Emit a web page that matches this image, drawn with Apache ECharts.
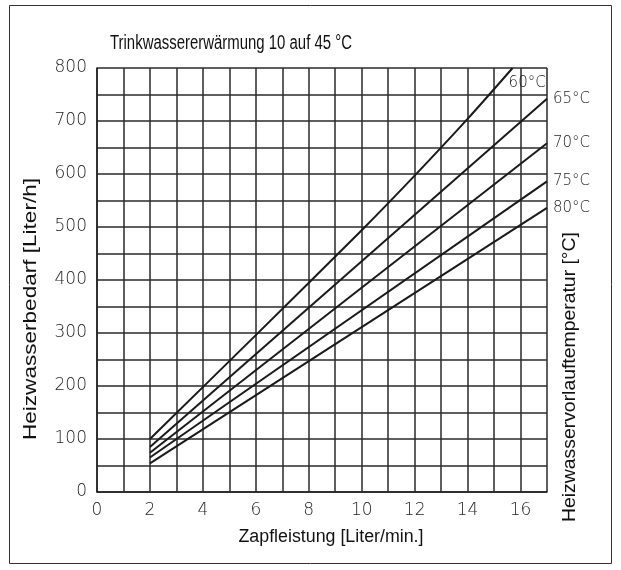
<!DOCTYPE html>
<html>
<head>
<meta charset="utf-8">
<script src="https://cdn.jsdelivr.net/npm/echarts@6/dist/echarts.min.js"></script>
<style>
  html, body { margin: 0; padding: 0; background: #fff; }
  #chart { width: 621px; height: 570px; }
</style>
</head>
<body>
<div id="chart"></div>
<script>
// Heating-water demand per flow temperature, tap rate in Liter/min.
const flowTemps = ['60°C', '65°C', '70°C', '75°C', '80°C'];
const curve60 = [[2, 100], [6, 296], [10, 494], [12, 597], [14, 704], [15.7, 800]];
const curve65 = [[2, 85], [17, 742]];
const curve70 = [[2, 74], [17, 658]];
const curve75 = [[2, 65], [17, 586]];
const curve80 = [[2, 54], [17, 536]];
const curves = [curve60, curve65, curve70, curve75, curve80];
const xTicks = [0, 2, 4, 6, 8, 10, 12, 14, 16];
const yTicks = [0, 100, 200, 300, 400, 500, 600, 700, 800];

const titleText = 'Trinkwassererwärmung 10 auf 45 °C';
const xName = 'Zapfleistung [Liter/min.]';
const yName = 'Heizwasserbedarf [Liter/h]';
const yRightName = 'Heizwasservorlauftemperatur [°C]';

const chart = echarts.init(document.getElementById('chart'), null, { renderer: 'canvas' });

const tickFont = 'DejaVu Sans';
const narrowFace = '"Liberation Sans", Arial, sans-serif';

// Condensed headings: squeeze a regular sans face to the wanted run length.
const measureCtx = document.createElement('canvas').getContext('2d');
function squeeze(text, size, targetLen) {
  measureCtx.font = size + 'px ' + narrowFace;
  const w = measureCtx.measureText(text).width;
  return targetLen / w;
}

function narrowText(text, size, x, y, len, rotated) {
  const s = squeeze(text, size, len);
  return {
    type: 'text',
    x: x, y: y,
    rotation: rotated ? Math.PI / 2 : 0,
    scaleX: s,
    silent: true,
    style: {
      text: text,
      font: size + 'px ' + narrowFace,
      fill: '#111',
      align: 'center',
      verticalAlign: 'middle'
    }
  };
}

const series = curves.map((pts, i) => ({
  type: 'line',
  name: flowTemps[i],
  data: pts,
  showSymbol: false,
  symbol: 'none',
  smooth: i === 0 ? 0.3 : false,
  lineStyle: { color: '#1a1a1a', width: 2 },
  clip: false,
  endLabel: {
    show: true,
    formatter: flowTemps[i],
    color: '#222',
    fontFamily: tickFont,
    fontWeight: 200,
    fontSize: 15,
    distance: 6,
    offset: i === 0 ? [-10, 15] : [0, 0]
  }
}));

chart.setOption({
  animation: false,
  backgroundColor: '#fff',
  grid: { left: 97, right: 74, top: 68, bottom: 78, show: false },
  xAxis: {
    type: 'value',
    min: 0, max: 17, interval: 1,
    axisLine: { show: true, lineStyle: { color: '#222', width: 1.5 } },
    axisTick: { show: false },
    axisLabel: {
      margin: 10,
      fontFamily: tickFont, fontWeight: 200, fontSize: 17, color: '#222',
      formatter: v => (xTicks.indexOf(v) >= 0 ? String(v) : '')
    },
    splitLine: { show: true, lineStyle: { color: '#2a2a2a', width: 1.5 } }
  },
  yAxis: {
    type: 'value',
    min: 0, max: 800, interval: 50,
    axisLine: { show: true, lineStyle: { color: '#222', width: 1.5 } },
    axisTick: { show: false },
    axisLabel: {
      margin: 10,
      fontFamily: tickFont, fontWeight: 200, fontSize: 17, color: '#222',
      formatter: v => (yTicks.indexOf(v) >= 0 ? String(v) : '')
    },
    splitLine: { show: true, lineStyle: { color: '#2a2a2a', width: 1.5 } }
  },
  series: series,
  graphic: [
    {
      type: 'rect',
      shape: { x: 9.5, y: 5.5, width: 602, height: 558 },
      style: { fill: 'none', stroke: '#333', lineWidth: 1 },
      silent: true
    },
    narrowText(titleText, 20, 231, 43, 242, false),
    narrowText(xName, 18, 331, 537, 185, false),
    // vertical names read bottom to top
    narrowText(yName, 19, 31, 309, 262, true),
    narrowText(yRightName, 18, 570, 377, 290, true)
  ]
});
</script>
</body>
</html>
